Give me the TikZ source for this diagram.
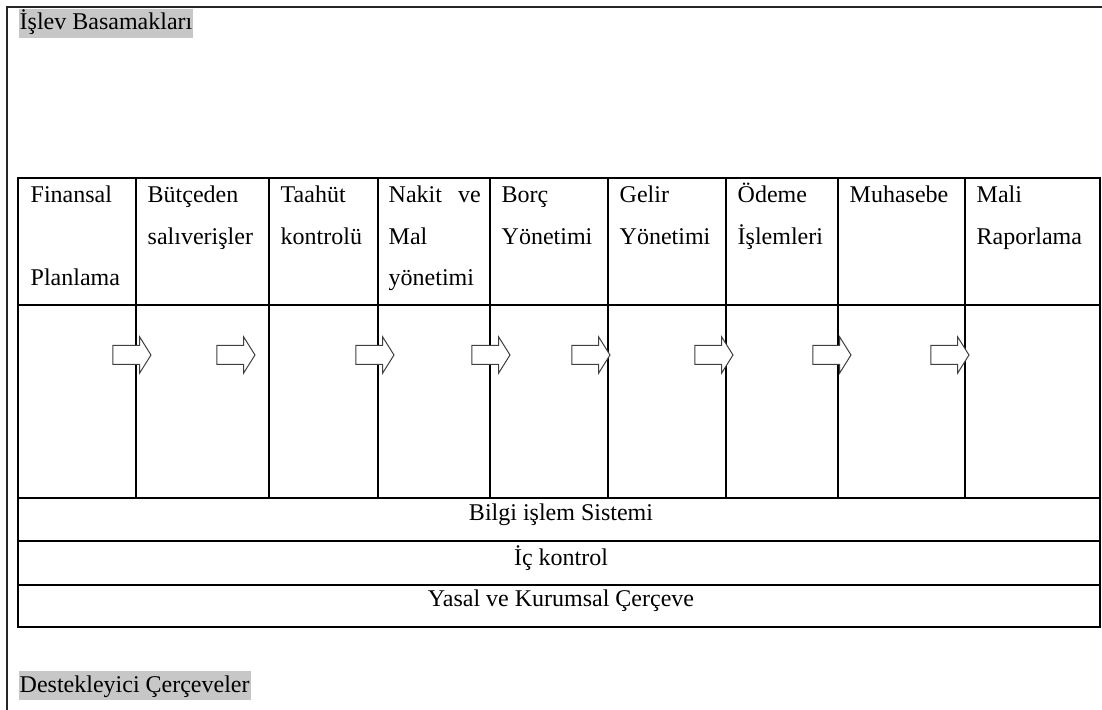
\documentclass[tikz,border=0pt]{standalone}
\usepackage{fontspec}
\setmainfont{Liberation Serif}
\usetikzlibrary{shapes.arrows}

\begin{document}
\begin{tikzpicture}[x = 0.5pt, y = -0.5pt, line width = 0.7pt,
                    font = \fontsize{12}{20.75}\selectfont,
                    highlight/.style = {fill = black!22, inner xsep = 0.5pt, inner ysep = 0pt,
                                   text height = 10.5pt, text depth = 4pt, anchor = base west},
                    stage/.style = {anchor = north west, inner sep = 0pt, align = left,
                                    text width = #1},
                    band/.style = {inner sep = 0pt},
                    flow/.style = {single arrow, draw = black!75, line width = 0.5pt, fill = white,
                                   inner sep = 0pt, minimum height = 19pt,
                                   single arrow head extend = 4.25pt,
                                   single arrow tip angle = 116, text height = 9pt}]
      \useasboundingbox (0, 0) rectangle (1102, 710);

      % outer frame
      \draw [line width = 0.9pt, black!85] (1102, 7) -- (7, 7) -- (7, 710);
      \node [highlight] (islev) at (18, 30) {İşlev Basamakları};
      \node [highlight] (destek) at (18, 692) {Destekleyici Çerçeveler};

      % table
      \draw (18, 178) rectangle (1100, 627);
      \draw (18, 305) -- (1100, 305);
      \draw (18, 498) -- (1100, 498);
      \draw (18, 541) -- (1100, 541);
      \draw (18, 585) -- (1100, 585);
      \foreach \x in {136, 269, 378, 490, 608, 726, 838, 965}
        \draw (\x, 178) -- (\x, 498);

      % stage headers
      \node [stage = 48pt] (finansal) at (30, 173) {\strut Finansal\\~\\Planlama};
      \node [stage = 60pt] (butce) at (147, 173) {\strut Bütçeden\\salıverişler};
      \node [stage = 48pt] (taahut) at (280, 173) {\strut Taahüt\\kontrolü};
      \node [stage = 46pt] (nakit) at (388, 173) {\strut Nakit \hfill ve\\Mal\\yönetimi};
      \node [stage = 50pt] (borc) at (501, 173) {\strut Borç\\Yönetimi};
      \node [stage = 50pt] (gelir) at (619, 173) {\strut Gelir\\Yönetimi};
      \node [stage = 50pt] (odeme) at (737, 173) {\strut Ödeme\\İşlemleri};
      \node [stage = 58pt] (muhasebe) at (849, 173) {\strut Muhasebe};
      \node [stage = 60pt] (mali) at (976, 173) {\strut Mali\\Raporlama};

      % flow arrows
      \node [flow] (f1) at (129, 355) {};
      \node [flow] (f2) at (233, 355) {};
      \node [flow] (f3) at (372, 355) {};
      \node [flow] (f4) at (488, 355) {};
      \node [flow] (f5) at (588, 355) {};
      \node [flow] (f6) at (711, 355) {};
      \node [flow] (f7) at (829, 355) {};
      \node [flow] (f8) at (947, 355) {};

      % supporting bands
      \node [band] (bilgi) at (561, 515) {Bilgi işlem Sistemi};
      \node [band] (ic) at (561, 558) {İç kontrol};
      \node [band] (yasal) at (561, 601) {Yasal ve Kurumsal Çerçeve};

      \end{tikzpicture}
\end{document}
